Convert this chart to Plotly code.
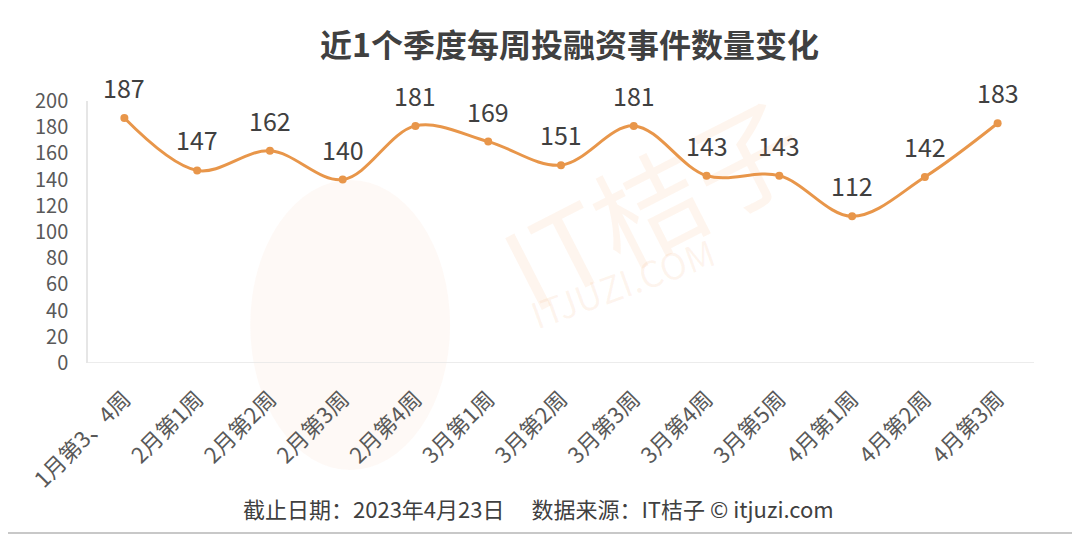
import plotly.graph_objects as go

categories = ["1月第3、4周", "2月第1周", "2月第2周", "2月第3周", "2月第4周", "3月第1周",
              "3月第2周", "3月第3周", "3月第4周", "3月第5周", "4月第1周", "4月第2周", "4月第3周"]
values = [187, 147, 162, 140, 181, 169, 151, 181, 143, 143, 112, 142, 183]
y_ticks = [0, 20, 40, 60, 80, 100, 120, 140, 160, 180, 200]

FONT = "Noto Sans CJK SC"
ORANGE = "#E8964A"
TEXT = "#404040"

# page body has an 8px default margin; figure is sized to fill the rest of the window
OFF = 8
PL, PR, PT, PB = 87.6, 1034.4, 101, 363   # plot area in window pixels
W, H = 1080 - OFF, 535 - OFF


def px(x):
    return (x - PL) / (PR - PL)


def py(y):
    return (PB - y) / (PB - PT)


fig = go.Figure()
fig.add_trace(go.Scatter(
    x=categories, y=values, mode="lines+markers",
    line=dict(color=ORANGE, width=3, shape="spline", smoothing=1.0),
    marker=dict(color=ORANGE, size=8),
    hoverinfo="x+y", showlegend=False,
))

annotations = []
for c, v in zip(categories, values):
    annotations.append(dict(x=c, y=v, xref="x", yref="y", text=str(v), showarrow=False,
                            yshift=31, font=dict(family=FONT, size=25, color=TEXT)))

WM = "rgba(240,140,70,0.09)"
annotations.append(dict(x=px(652), y=py(200), xref="paper", yref="paper", text="IT桔子", showarrow=False,
                        xanchor="center", yanchor="middle",
                        textangle=-27, font=dict(family=FONT, size=110, color=WM)))
annotations.append(dict(x=px(622), y=py(282), xref="paper", yref="paper", text="ITJUZI.COM", showarrow=False,
                        xanchor="center", yanchor="middle",
                        textangle=-20, font=dict(family=FONT, size=36, color=WM)))
annotations.append(dict(x=px(538), y=py(508), xref="paper", yref="paper",
                        text="截止日期：2023年4月23日　 数据来源：IT桔子 © itjuzi.com",
                        showarrow=False, xanchor="center", yanchor="middle",
                        font=dict(family=FONT, size=22, color=TEXT)))
annotations.append(dict(x=px(570), y=py(43), xref="paper", yref="paper",
                        text="<b>近1个季度每周投融资事件数量变化</b>",
                        showarrow=False, xanchor="center", yanchor="middle",
                        font=dict(family=FONT, size=32, color=TEXT)))

fig.update_layout(
    width=W, height=H,
    paper_bgcolor="white", plot_bgcolor="rgba(0,0,0,0)",
    margin=dict(l=PL - OFF, r=1080 - PR, t=PT - OFF, b=535 - PB),
    xaxis=dict(type="category", tickangle=-45, tickfont=dict(family=FONT, size=22, color="#595959"),
               showgrid=False, showline=False, zeroline=False, ticks="", range=[-0.5, 12.5],
               ticklabelstandoff=18),
    yaxis=dict(range=[0, 200], tickvals=y_ticks, tickfont=dict(family=FONT, size=20, color="#595959"),
               showgrid=False, zeroline=False, showline=True, linecolor="#E6E6E6", linewidth=1.5,
               ticks="", ticklabelstandoff=14),
    annotations=annotations,
    shapes=[
        dict(type="circle", xref="paper", yref="paper", x0=px(250), x1=px(450), y0=py(470), y1=py(180),
             line=dict(width=0), fillcolor="rgba(240,140,70,0.05)", layer="below"),
        dict(type="line", xref="paper", yref="y", x0=0, x1=1, y0=0, y1=0,
             line=dict(color="#E6E6E6", width=1.5), layer="below"),
        dict(type="line", xref="paper", yref="paper", x0=px(1077), x1=px(1077), y0=py(1), y1=py(533),
             line=dict(color="#C8C8C8", width=2)),
        dict(type="line", xref="paper", yref="paper", x0=px(0), x1=px(1077), y0=py(533), y1=py(533),
             line=dict(color="#C8C8C8", width=2)),
    ],
)

fig.write_html("out.html")
